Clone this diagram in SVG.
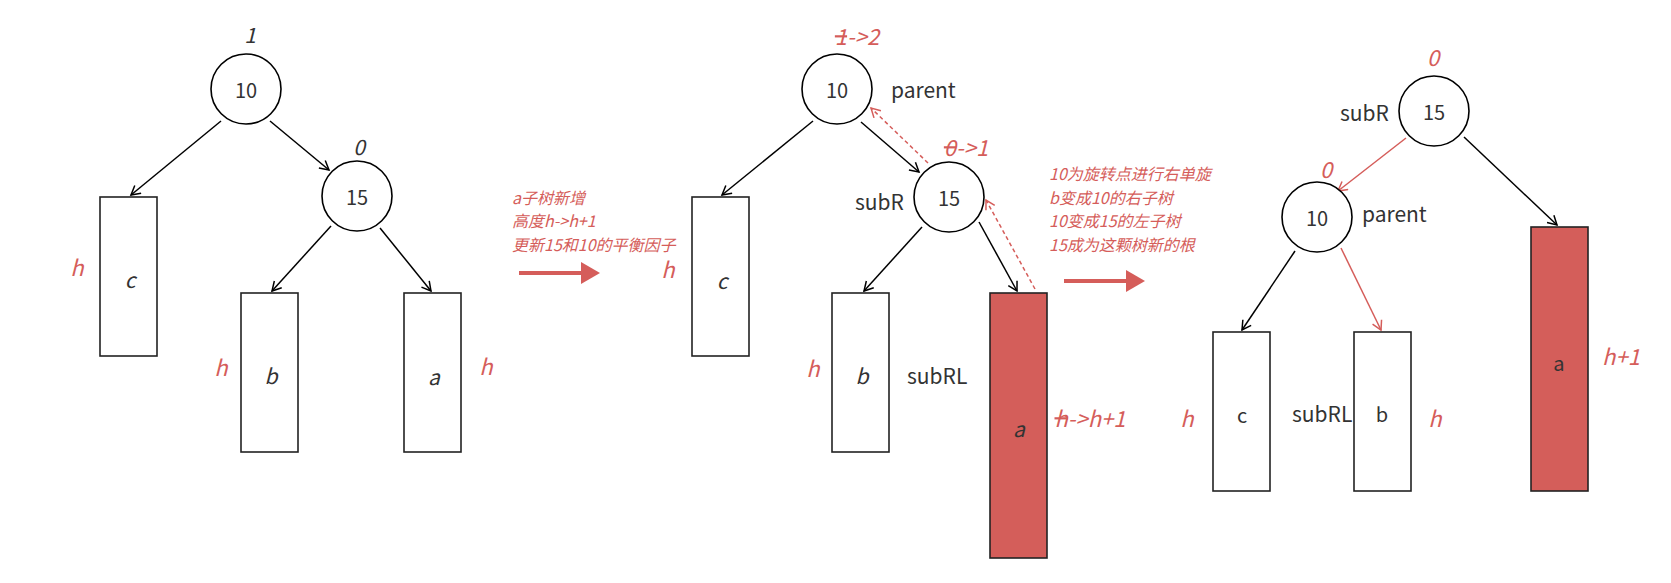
<svg xmlns="http://www.w3.org/2000/svg" width="1671" height="583" viewBox="0 0 1671 583">
<defs>
<marker id="ab" viewBox="-10 -6 12 12" refX="0" refY="0" markerWidth="12" markerHeight="12" markerUnits="userSpaceOnUse" orient="auto">
<path d="M-9,-5 L0,0 L-9,5" fill="none" stroke="#000" stroke-width="1.5"/>
</marker>
<marker id="ar" viewBox="-10 -6 12 12" refX="0" refY="0" markerWidth="12" markerHeight="12" markerUnits="userSpaceOnUse" orient="auto">
<path d="M-9,-5 L0,0 L-9,5" fill="none" stroke="#d55d5a" stroke-width="1.5"/>
</marker>
<style>
text{font-family:"Noto Sans CJK SC","Noto Sans",sans-serif;}
.n{fill:#fff;stroke:#000;stroke-width:1.6;}
.box{fill:#fff;stroke:#222;stroke-width:1.6;}
.rbox{fill:#d45e5a;stroke:#222;stroke-width:1.6;}
.t{font-size:20px;fill:#333;text-anchor:middle;dominant-baseline:central;}
.ti{font-size:21px;fill:#333;text-anchor:middle;dominant-baseline:central;font-style:italic;}
.lab{font-size:21px;fill:#333;dominant-baseline:central;}
.rh{font-size:22px;fill:#d55d5a;text-anchor:middle;dominant-baseline:central;font-style:italic;}
.note{font-size:16px;fill:#d55d5a;font-style:italic;dominant-baseline:central;}
.e{stroke:#000;stroke-width:1.5;fill:none;marker-end:url(#ab);}
.er{stroke:#d55d5a;stroke-width:1.5;fill:none;marker-end:url(#ar);}
.ed{stroke:#d55d5a;stroke-width:1.5;fill:none;stroke-dasharray:4 3;marker-end:url(#ar);}
.big{stroke:#d55d5a;stroke-width:4;fill:none;}
</style>
</defs>

<g id="connectors">
<line class="e" x1="221" y1="121" x2="131" y2="195"/>
<line class="e" x1="270" y1="121" x2="329" y2="170"/>
<line class="e" x1="331" y1="226" x2="272" y2="291"/>
<line class="e" x1="380" y1="228" x2="431" y2="291"/>
<line class="big" x1="519" y1="273" x2="583" y2="273"/>
<polygon points="581,262 600,273 581,284" fill="#d55d5a"/>
<line class="e" x1="813" y1="121" x2="722" y2="195"/>
<line class="e" x1="861" y1="122" x2="919" y2="172"/>
<line class="ed" x1="928" y1="163" x2="871" y2="108"/>
<line class="e" x1="922" y1="227" x2="864" y2="291"/>
<line class="e" x1="979" y1="222" x2="1017" y2="291"/>
<line class="ed" x1="1035" y1="289" x2="986" y2="200"/>
<line class="big" x1="1064" y1="281" x2="1128" y2="281"/>
<polygon points="1126,270 1145,281 1126,292" fill="#d55d5a"/>
<line class="er" x1="1406" y1="138" x2="1338" y2="191"/>
<line class="e" x1="1464" y1="137" x2="1557" y2="225"/>
<line class="e" x1="1295" y1="251" x2="1242" y2="330"/>
<line class="er" x1="1341" y1="248" x2="1381" y2="330"/>
</g>

<g id="t1-n10">
<circle class="n" cx="246" cy="89" r="35"/>
<text class="t" x="246" y="89">10</text>
<text class="ti" x="250" y="34">1</text>
</g>
<g id="t1-n15">
<circle class="n" cx="357" cy="196" r="35"/>
<text class="t" x="357" y="196">15</text>
<text class="ti" x="359" y="146">0</text>
</g>
<g id="t1-c">
<rect class="box" x="100" y="197" width="57" height="159"/>
<text class="ti" x="130" y="279">c</text>
<text class="rh" x="77" y="266">h</text>
</g>
<g id="t1-b">
<rect class="box" x="241" y="293" width="57" height="159"/>
<text class="ti" x="271" y="375">b</text>
<text class="rh" x="221" y="366">h</text>
</g>
<g id="t1-a">
<rect class="box" x="404" y="293" width="57" height="159"/>
<text class="ti" x="434" y="376">a</text>
<text class="rh" x="486" y="365">h</text>
</g>

<g id="note1">
<text class="note" x="512" y="197">a子树新增</text>
<text class="note" x="512" y="220">高度h-&gt;h+1</text>
<text class="note" x="512" y="244">更新15和10的平衡因子</text>
</g>

<g id="t2-n10">
<circle class="n" cx="837" cy="89" r="35"/>
<text class="t" x="837" y="89">10</text>
<text class="rh" x="857" y="35"><tspan text-decoration="line-through">1</tspan>-&gt;2</text>
<text class="lab" x="891" y="89">parent</text>
</g>
<g id="t2-n15">
<circle class="n" cx="949" cy="197" r="35"/>
<text class="t" x="949" y="197">15</text>
<text class="rh" x="966" y="146"><tspan text-decoration="line-through">0</tspan>-&gt;1</text>
<text class="lab" x="855" y="201">subR</text>
</g>
<g id="t2-c">
<rect class="box" x="692" y="197" width="57" height="159"/>
<text class="ti" x="722" y="280">c</text>
<text class="rh" x="668" y="268">h</text>
</g>
<g id="t2-b">
<rect class="box" x="832" y="293" width="57" height="159"/>
<text class="ti" x="862" y="375">b</text>
<text class="rh" x="813" y="367">h</text>
<text class="lab" x="907" y="375">subRL</text>
</g>
<g id="t2-a">
<rect class="rbox" x="990" y="293" width="57" height="265"/>
<text class="ti" x="1019" y="428">a</text>
<text class="rh" x="1090" y="417"><tspan text-decoration="line-through">h</tspan>-&gt;h+1</text>
</g>

<g id="note2">
<text class="note" x="1049" y="173">10为旋转点进行右单旋</text>
<text class="note" x="1049" y="197">b变成10的右子树</text>
<text class="note" x="1049" y="220">10变成15的左子树</text>
<text class="note" x="1049" y="244">15成为这颗树新的根</text>
</g>

<g id="t3-n15">
<circle class="n" cx="1434" cy="111" r="35"/>
<text class="t" x="1434" y="111">15</text>
<text class="rh" x="1433" y="56">0</text>
<text class="lab" x="1340" y="112">subR</text>
</g>
<g id="t3-n10">
<circle class="n" cx="1317" cy="217" r="35"/>
<text class="t" x="1317" y="217">10</text>
<text class="rh" x="1326" y="168">0</text>
<text class="lab" x="1362" y="213">parent</text>
</g>
<g id="t3-c">
<rect class="box" x="1213" y="332" width="57" height="159"/>
<text class="t" x="1242" y="414">c</text>
<text class="rh" x="1187" y="417">h</text>
</g>
<g id="t3-b">
<rect class="box" x="1354" y="332" width="57" height="159"/>
<text class="t" x="1382" y="413">b</text>
<text class="rh" x="1435" y="417">h</text>
<text class="lab" x="1292" y="413">subRL</text>
</g>
<g id="t3-a">
<rect class="rbox" x="1531" y="227" width="57" height="264"/>
<text class="t" x="1559" y="362">a</text>
<text class="rh" x="1621" y="355">h+1</text>
</g>
</svg>
